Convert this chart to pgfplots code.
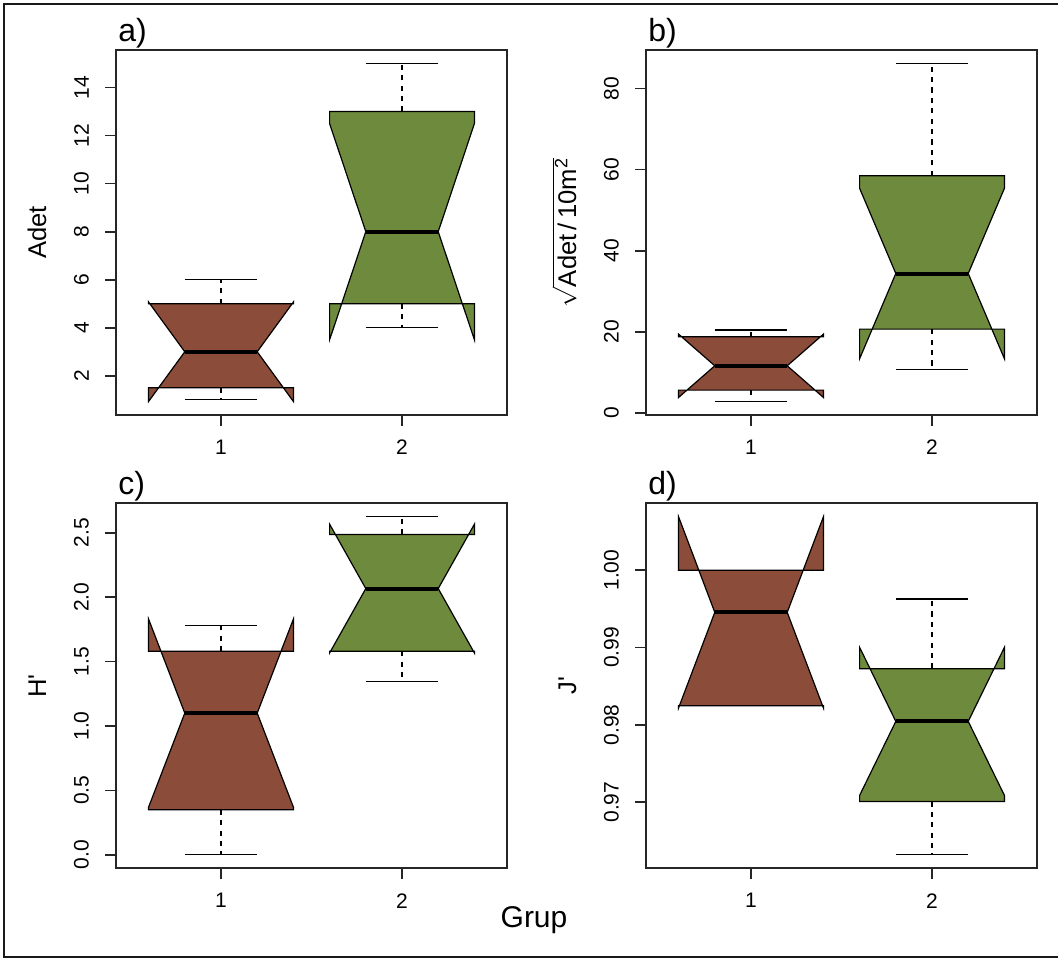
\documentclass[border=0pt]{standalone}
\usepackage{pgfplots}
\pgfplotsset{compat=1.18}
\usepackage{fontspec}
\setmainfont{Liberation Sans}
% same face without TeX ligature mapping, so ' stays a straight apostrophe
\newfontfamily\plainfont{Liberation Sans}

\definecolor{boxred}{HTML}{8B4C39}
\definecolor{boxgreen}{HTML}{6E8B3D}

\newcommand{\tickfont}{\fontsize{10.5}{12}\selectfont}

\pgfplotsset{
  rpanel/.style={
    scale only axis, width=195.5pt, height=182.5pt,
    anchor=north west,
    xmin=0.42, xmax=2.58,
    xtick={1,2},
    axis line style={line width=0.85pt, black!85},
    tick align=outside, tick pos=left,
    major tick length=5.5pt,
    every tick/.style={line width=0.85pt, black!85},
    /pgf/number format/assume math mode=true,
    tick label style={font=\tickfont},
    yticklabel style={font=\tickfont, xshift=-4.5pt, rotate=90, anchor=south},
    xticklabel style={font=\tickfont, anchor=north, yshift=-3.5pt},
    scaled y ticks=false,
    every axis y label/.style={at={(axis description cs:0,0.5)},
      xshift=-35pt, rotate=90,
      anchor=base, inner sep=0pt,
      font=\fontsize{12.8}{14}\selectfont},
    every axis title/.style={at={(axis description cs:0,1)}, anchor=base west,
      inner sep=0pt, yshift=4.5pt, xshift=1pt,
      font=\fontsize{16}{18}\selectfont},
  },
  boxR/.style={fill=boxred, draw=black, line width=0.6pt},
  boxG/.style={fill=boxgreen, draw=black, line width=0.6pt},
  whisk/.style={black, line width=0.6pt, dash pattern=on 2.6pt off 2.6pt},
  staple/.style={black, line width=0.6pt},
  med/.style={black, line width=2pt},
}

\begin{document}
\begin{tikzpicture}
\useasboundingbox (0,0) rectangle (529pt,-479.5pt);
\draw[line width=1pt, black!90] (531pt,-2pt) -- (2pt,-2pt) -- (2pt,-478.5pt) -- (531pt,-478.5pt);

% a) Adet
\begin{axis}[rpanel, at={(58pt,-25pt)}, title={a)}, ylabel={Adet},
  ymin=0.367, ymax=15.563, ytick={2,4,6,8,10,12,14}]
  \addplot[boxR] coordinates {(0.6,1.5) (1.4,1.5) (1.4,0.93) (1.2,3) (1.4,5.07) (1.4,5) (0.6,5) (0.6,5.07) (0.8,3) (0.6,0.93)} -- cycle;
  \addplot[whisk] coordinates {(1,1.5) (1,1)};
  \addplot[whisk] coordinates {(1,5) (1,6)};
  \addplot[staple] coordinates {(0.8,1) (1.2,1)};
  \addplot[staple] coordinates {(0.8,6) (1.2,6)};
  \addplot[med] coordinates {(0.8,3) (1.2,3)};
  \addplot[boxG] coordinates {(1.6,5) (2.4,5) (2.4,3.5) (2.2,8) (2.4,12.5) (2.4,13) (1.6,13) (1.6,12.5) (1.8,8) (1.6,3.5)} -- cycle;
  \addplot[whisk] coordinates {(2,5) (2,4)};
  \addplot[whisk] coordinates {(2,13) (2,15)};
  \addplot[staple] coordinates {(1.8,4) (2.2,4)};
  \addplot[staple] coordinates {(1.8,15) (2.2,15)};
  \addplot[med] coordinates {(1.8,8) (2.2,8)};
\end{axis}

% b) sqrt(Adet/10m2)
\begin{axis}[rpanel, at={(323pt,-25pt)}, title={b)},
  ylabel={$\sqrt{\mbox{Adet\,/\,10m\textsuperscript{2}}}$},
  ymin=-0.47, ymax=89.48, ytick={0,20,40,60,80}]
  \addplot[boxR] coordinates {(0.6,5.67) (1.4,5.67) (1.4,3.86) (1.2,11.66) (1.4,19.46) (1.4,18.8) (0.6,18.8) (0.6,19.46) (0.8,11.66) (0.6,3.86)} -- cycle;
  \addplot[whisk] coordinates {(1,5.67) (1,2.86)};
  \addplot[whisk] coordinates {(1,18.8) (1,20.5)};
  \addplot[staple] coordinates {(0.8,2.86) (1.2,2.86)};
  \addplot[staple] coordinates {(0.8,20.5) (1.2,20.5)};
  \addplot[med] coordinates {(0.8,11.66) (1.2,11.66)};
  \addplot[boxG] coordinates {(1.6,20.7) (2.4,20.7) (2.4,13.4) (2.2,34.4) (2.4,55.4) (2.4,58.48) (1.6,58.48) (1.6,55.4) (1.8,34.4) (1.6,13.4)} -- cycle;
  \addplot[whisk] coordinates {(2,20.7) (2,10.84)};
  \addplot[whisk] coordinates {(2,58.48) (2,86.15)};
  \addplot[staple] coordinates {(1.8,10.84) (2.2,10.84)};
  \addplot[staple] coordinates {(1.8,86.15) (2.2,86.15)};
  \addplot[med] coordinates {(1.8,34.4) (2.2,34.4)};
\end{axis}

% c) H'
\begin{axis}[rpanel, at={(58pt,-251.65pt)}, title={c)}, ylabel={\plainfont H'},
  ymin=-0.105, ymax=2.729, ytick={0,0.5,1,1.5,2,2.5},
  yticklabel style={/pgf/number format/.cd, fixed, fixed zerofill, precision=1}]
  \addplot[boxR] coordinates {(0.6,0.35) (1.4,0.35) (1.4,0.37) (1.2,1.10) (1.4,1.83) (1.4,1.58) (0.6,1.58) (0.6,1.83) (0.8,1.10) (0.6,0.37)} -- cycle;
  \addplot[whisk] coordinates {(1,0.35) (1,0)};
  \addplot[whisk] coordinates {(1,1.58) (1,1.78)};
  \addplot[staple] coordinates {(0.8,0) (1.2,0)};
  \addplot[staple] coordinates {(0.8,1.78) (1.2,1.78)};
  \addplot[med] coordinates {(0.8,1.10) (1.2,1.10)};
  \addplot[boxG] coordinates {(1.6,1.58) (2.4,1.58) (2.4,1.567) (2.2,2.067) (2.4,2.567) (2.4,2.487) (1.6,2.487) (1.6,2.567) (1.8,2.067) (1.6,1.567)} -- cycle;
  \addplot[whisk] coordinates {(2,1.58) (2,1.347)};
  \addplot[whisk] coordinates {(2,2.487) (2,2.624)};
  \addplot[staple] coordinates {(1.8,1.347) (2.2,1.347)};
  \addplot[staple] coordinates {(1.8,2.624) (2.2,2.624)};
  \addplot[med] coordinates {(1.8,2.067) (2.2,2.067)};
\end{axis}

% d) J'
\begin{axis}[rpanel, at={(323pt,-251.65pt)}, title={d)}, ylabel={\plainfont J'},
  ymin=0.96143, ymax=1.00866, ytick={0.97,0.98,0.99,1.00},
  yticklabel style={/pgf/number format/.cd, fixed, fixed zerofill, precision=2}]
  \addplot[boxR] coordinates {(0.6,0.98247) (1.4,0.98247) (1.4,0.98219) (1.2,0.99455) (1.4,1.00691) (1.4,1.0) (0.6,1.0) (0.6,1.00691) (0.8,0.99455) (0.6,0.98219)} -- cycle;
  \addplot[med] coordinates {(0.8,0.99455) (1.2,0.99455)};
  \addplot[boxG] coordinates {(1.6,0.97008) (2.4,0.97008) (2.4,0.97086) (2.2,0.98044) (2.4,0.99002) (2.4,0.98726) (1.6,0.98726) (1.6,0.99002) (1.8,0.98044) (1.6,0.97086)} -- cycle;
  \addplot[whisk] coordinates {(2,0.97008) (2,0.96318)};
  \addplot[whisk] coordinates {(2,0.98726) (2,0.99629)};
  \addplot[staple] coordinates {(1.8,0.96318) (2.2,0.96318)};
  \addplot[staple] coordinates {(1.8,0.99629) (2.2,0.99629)};
  \addplot[med] coordinates {(1.8,0.98044) (2.2,0.98044)};
\end{axis}

\node[anchor=base, inner sep=0pt, font=\fontsize{15}{17}\selectfont] at (267pt,-463.85pt) {Grup};
\end{tikzpicture}
\end{document}
